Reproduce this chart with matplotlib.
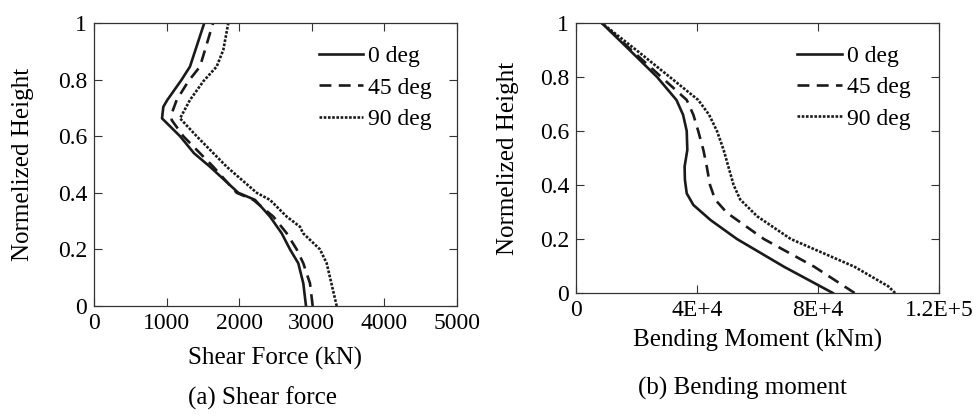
import numpy as np
import matplotlib.pyplot as plt

plt.rcParams['font.family'] = ['Liberation Serif', 'DejaVu Serif']

# shear force (kN) vs normalized height
h_shear_0 = [0, 0.08, 0.151, 0.2, 0.257, 0.316, 0.375, 0.4, 0.492, 0.54, 0.6, 0.663, 0.704, 0.728, 0.8, 0.846, 1.0]
v_shear_0 = [2920, 2883, 2814, 2700, 2585, 2424, 2218, 1988, 1598, 1377, 1185, 937, 955, 1010, 1208, 1322, 1519]
h_shear_45 = [0, 0.08, 0.151, 0.2, 0.257, 0.316, 0.375, 0.4, 0.492, 0.6, 0.657, 0.68, 0.728, 0.794, 0.846, 1.0]
v_shear_45 = [3012, 2975, 2883, 2792, 2654, 2470, 2194, 1965, 1643, 1230, 1070, 1070, 1139, 1299, 1460, 1640]
h_shear_90 = [0, 0.151, 0.2, 0.257, 0.28, 0.316, 0.375, 0.4, 0.492, 0.6, 0.663, 0.728, 0.794, 0.846, 0.905, 1.0]
v_shear_90 = [3343, 3205, 3113, 2880, 2837, 2654, 2424, 2241, 1828, 1414, 1185, 1322, 1506, 1690, 1781, 1850]

# bending moment (kNm) vs normalized height
h_mom_0 = [0, 0.097, 0.2, 0.27, 0.326, 0.369, 0.42, 0.468, 0.53, 0.6, 0.66, 0.715, 0.8, 0.9, 1.0]
m_mom_0 = [84900, 68800, 53200, 44500, 38800, 36600, 36000, 35900, 36800, 36600, 35400, 33200, 26800, 17700, 8500]
h_mom_45 = [0, 0.097, 0.2, 0.297, 0.346, 0.4, 0.47, 0.53, 0.6, 0.66, 0.715, 0.8, 0.9, 1.0]
m_mom_45 = [92100, 78800, 62100, 49900, 46000, 44300, 43200, 42100, 40400, 38800, 36600, 28200, 18300, 8500]
h_mom_90 = [0, 0.025, 0.097, 0.2, 0.284, 0.346, 0.4, 0.53, 0.6, 0.66, 0.715, 0.8, 0.9, 1.0]
m_mom_90 = [105500, 103200, 92100, 71000, 59900, 54300, 52100, 48800, 46600, 44000, 40400, 31000, 19900, 8500]

labels = ['0 deg', '45 deg', '90 deg']
y_ticks = [0, 0.2, 0.4, 0.6, 0.8, 1]
y_ticklabels = ['0', '0.2', '0.4', '0.6', '0.8', '1']
shear_ticks = [0, 1000, 2000, 3000, 4000, 5000]
mom_ticks = [0, 40000, 80000, 120000]
mom_ticklabels = ['0', '4E+4', '8E+4', '1.2E+5']

col = '#1a1a1a'
styles = [dict(ls='-', lw=1.9),
          dict(ls=(0, (4.5, 2.8)), lw=1.9),
          dict(ls=(0, (1.0, 0.6)), lw=1.9)]

fig = plt.figure(figsize=(9.76, 4.16), dpi=100)
ax1 = fig.add_axes([94/976, 110/416, 363/976, 283/416])
ax2 = fig.add_axes([576/976, 123/416, 363/976, 270/416])

shear = [(v_shear_0, h_shear_0), (v_shear_45, h_shear_45), (v_shear_90, h_shear_90)]
for (x, y), st, lab in zip(shear, styles, labels):
    ax1.plot(x, y, color=col, label=lab, **st)

mom = [(m_mom_0, h_mom_0), (m_mom_45, h_mom_45), (m_mom_90, h_mom_90)]
for (x, y), st, lab in zip(mom, styles, labels):
    ax2.plot(x, y, color=col, label=lab, **st)

ax1.set_xlim(0, 5000)
ax1.set_xticks(shear_ticks)
ax1.set_xticklabels([str(t) for t in shear_ticks])
ax2.set_xlim(0, 120000)
ax2.set_xticks(mom_ticks)
ax2.set_xticklabels(mom_ticklabels)

for ax, xl, xc, yc, anc in [(ax1, 'Shear Force (kN)', -0.184, -0.196, (0.97, 0.97)),
                            (ax2, 'Bending Moment (kNm)', -0.174, -0.187, (0.96, 0.97))]:
    ax.set_ylim(0, 1)
    ax.set_yticks(y_ticks)
    ax.set_yticklabels(y_ticklabels)
    ax.tick_params(direction='in', top=True, right=True, length=6,
                   width=0.8, labelsize=17, color='#333333')
    ax.tick_params(axis='x', pad=5)
    ax.tick_params(axis='y', pad=5)
    for s in ax.spines.values():
        s.set_linewidth(0.9)
        s.set_color('#333333')
    ax.set_xlabel(xl, fontsize=18, va='center')
    ax.xaxis.set_label_coords(0.5, xc)
    ax.set_ylabel('Normelized Height', fontsize=18, va='center')
    ax.yaxis.set_label_coords(yc, 0.5)
    ax.legend(loc='upper right', frameon=False, fontsize=17,
              handlelength=1.9, handletextpad=0.2, labelspacing=0.42,
              borderaxespad=0.2, bbox_to_anchor=anc)

fig.text(262/976, 1 - 398/416, '(a) Shear force', fontsize=18, ha='center', va='center')
fig.text(742/976, 1 - 388/416, '(b) Bending moment', fontsize=18, ha='center', va='center')

fig.savefig('out.png', dpi=100)
